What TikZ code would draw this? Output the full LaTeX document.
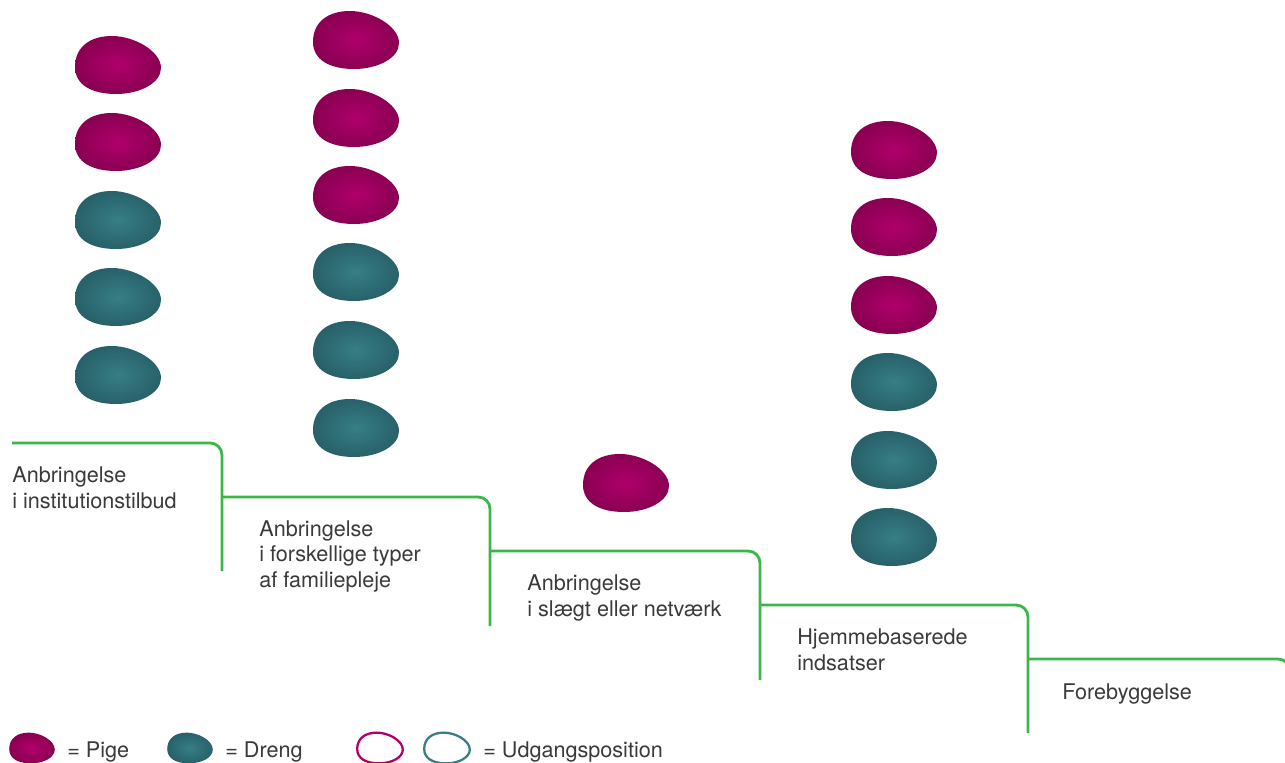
\documentclass[tikz,border=0pt]{standalone}
\usepackage{fontspec}
\setmainfont{TeX Gyre Heros}

\definecolor{pigelys}{HTML}{B0006B}
\definecolor{pigemork}{HTML}{8A0052}
\definecolor{drenglys}{HTML}{377E85}
\definecolor{drengmork}{HTML}{28616A}
\definecolor{trappe}{HTML}{3DB54A}
\definecolor{tekst}{HTML}{3A3A3A}

\tikzset{
  egg/.pic={\path[#1] (-43,2) .. controls (-43,-18) and (-28,-29) .. (-6,-29)
      .. controls (16,-29) and (43,-14) .. (43,3)
      .. controls (43,18) and (22,29) .. (-2,29)
      .. controls (-26,29) and (-43,20) .. (-43,2) -- cycle;},
  pige/.style={shading=radial,inner color=pigelys,outer color=pigemork},
  dreng/.style={shading=radial,inner color=drenglys,outer color=drengmork},
  stair/.style={draw=trappe,line width=1.6pt,rounded corners=6.8pt},
  label/.style={anchor=base west,align=left,inner sep=0pt}
}

\begin{document}
\begin{tikzpicture}[x=0.02cm,y=-0.02cm,font=\fontsize{12.3}{14.3}\selectfont,text=tekst]
        \clip (0,0) rectangle (1285,763);

        % eggs
        \foreach \y in {65,142} \pic at (118,\y) {egg=pige};
        \foreach \y in {220,297,375} \pic at (118,\y) {egg=dreng};
        \foreach \y in {40,118,195} \pic at (356,\y) {egg=pige};
        \foreach \y in {272,350,428} \pic at (356,\y) {egg=dreng};
        \pic at (626,483) {egg=pige};
        \foreach \y in {150,227,305} \pic at (894,\y) {egg=pige};
        \foreach \y in {382,460,537} \pic at (894,\y) {egg=dreng};

        % stairs
        \draw[stair] (12,443) -| (222,571);
        \draw[stair] (222,497) -| (490,626);
        \draw[stair] (490,551) -| (760,680);
        \draw[stair] (760,605) -| (1028,733);
        \draw[stair] (1028,659) -| (1290,790);

        % base of a multi-line label is its last line
        \node[label] (inst) at (12,508) {Anbringelse\\i institutionstilbud};
        \node[label] (fam) at (259,587) {Anbringelse\\i forskellige typer\\af familiepleje};
        \node[label] (slaegt) at (527,616) {Anbringelse\\i slægt eller netværk};
        \node[label] (hjem) at (797,670) {Hjemmebaserede\\indsatser};
        \node[label] (fore) at (1062,699) {Forebyggelse};

        % legend
        \pic[scale=0.53] at (32,748) {egg=pige};
        \pic[scale=0.53] at (190,748) {egg=dreng};
        \pic[scale=0.53] at (380,748) {egg={draw=pigelys,line width=1.3pt}};
        \pic[scale=0.53] at (447,748) {egg={draw=drenglys,line width=1.3pt}};
        \node[label] (pige) at (67,757) {= Pige};
        \node[label] (dreng) at (225,757) {= Dreng};
        \node[label] (udgang) at (483,757) {= Udgangsposition};
      \end{tikzpicture}
\end{document}
